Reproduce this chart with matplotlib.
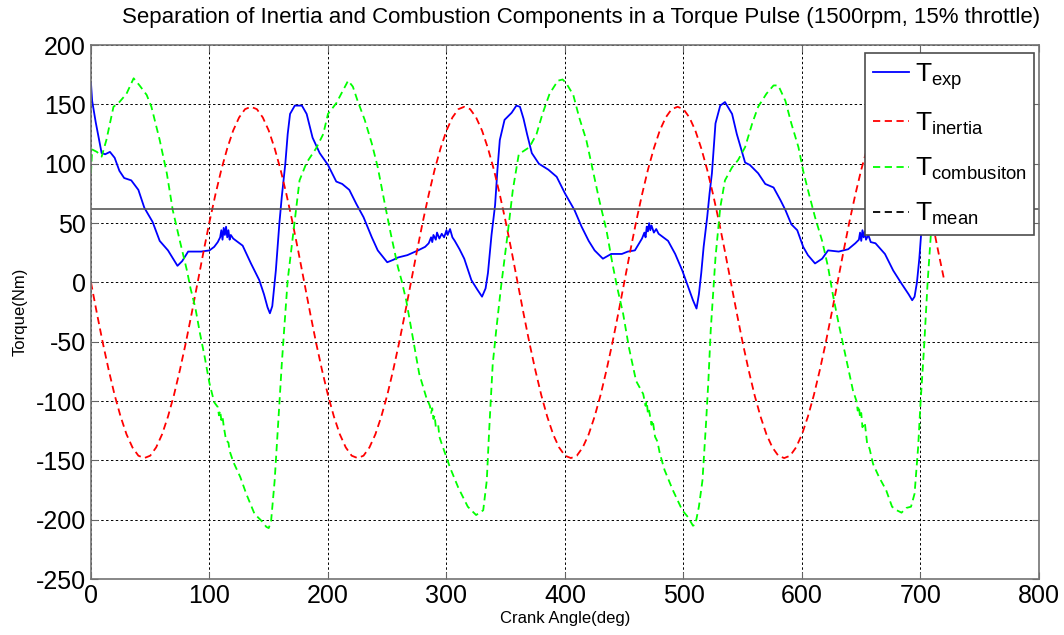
import matplotlib
matplotlib.use('Agg')
import matplotlib.pyplot as plt
from matplotlib.lines import Line2D

plt.rcParams['font.family'] = ['Liberation Sans', 'DejaVu Sans']
plt.rcParams['mathtext.fontset'] = 'custom'
plt.rcParams['mathtext.rm'] = 'Liberation Sans'
plt.rcParams['mathtext.default'] = 'regular'
plt.rcParams['axes.unicode_minus'] = False

# measured torque (blue)
exp_deg = [0, 1, 4, 9, 12, 16, 20, 24, 28, 34, 40, 45, 52, 58, 65, 73, 77, 82, 88, 93,
           100, 104, 107, 109, 110, 111, 112, 113, 114, 115, 116, 117, 118, 120, 124, 128,
           135, 142, 146, 149, 151, 153, 156, 159, 161, 164, 166, 168, 172, 178, 182, 187,
           193, 200, 207, 212, 218, 224, 230, 237, 242, 250, 255, 259, 267, 276, 282, 285,
           287, 288, 289, 291, 292, 294, 296, 298, 300, 301, 303, 305, 307, 311, 315, 321,
           326, 330, 333, 335, 338, 341, 343, 345, 349, 355, 359, 362, 365, 368, 372, 378,
           386, 393, 400, 408, 414, 420, 425, 432, 439, 448, 453, 459, 465, 467, 468, 469,
           470, 471, 472, 473, 475, 477, 479, 487, 493, 499, 504, 508, 511, 513, 515, 517,
           520, 522, 524, 527, 531, 535, 541, 545, 552, 556, 563, 569, 576, 582, 586, 591,
           596, 601, 605, 611, 617, 622, 631, 639, 645, 648, 649, 650, 651, 652, 653, 654,
           656, 658, 662, 670, 677, 684, 690, 693, 695, 697, 699, 701, 703, 706, 709, 713, 720]
T_exp = [168, 153, 135, 109, 108, 110, 105, 94, 88, 86, 78, 63, 51, 35, 27, 14, 18, 26, 26, 26,
         27, 30, 34, 38, 44, 36, 46, 40, 47, 38, 44, 36, 40, 37, 34, 31,
         16, 2, -10, -21, -26, -20, 10, 50, 72, 100, 125, 142, 149, 149, 142, 122,
         109, 99, 85, 83, 78, 66, 55, 38, 27, 17, 19, 21, 23, 27, 30, 33,
         38, 34, 40, 36, 42, 37, 41, 38, 44, 40, 45, 38, 35, 28, 20, 2,
         -6, -12, -5, 8, 40, 65, 95, 120, 137, 143, 149, 148, 138, 125, 109, 100,
         95, 89, 75, 61, 47, 35, 27, 20, 24, 24, 26, 27, 37, 42, 38, 47,
         43, 50, 44, 48, 42, 45, 41, 35, 24, 10, -4, -15, -22, -10, 8, 30,
         55, 75, 92, 134, 149, 152, 142, 125, 101, 99, 92, 83, 80, 69, 61, 49,
         44, 30, 23, 16, 20, 27, 26, 28, 33, 36, 42, 35, 44, 38, 43, 36,
         40, 34, 33, 24, 10, -1, -10, -15, -12, 0, 20, 47, 90, 130, 155, 160, 155]

# inertia torque (red), every 5 deg
inertia_deg = list(range(0, 721, 5))
T_inertia = [0, -26, -51, -74, -95, -113, -128, -139, -146, -148, -146, -139, -128, -113, -95, -74, -51, -26,
             0, 26, 51, 74, 95, 113, 128, 139, 146, 148, 146, 139, 128, 113, 95, 74, 51, 26,
             0, -26, -51, -74, -95, -113, -128, -139, -146, -148, -146, -139, -128, -113, -95, -74, -51, -26,
             0, 26, 51, 74, 95, 113, 128, 139, 146, 148, 146, 139, 128, 113, 95, 74, 51, 26,
             0, -26, -51, -74, -95, -113, -128, -139, -146, -148, -146, -139, -128, -113, -95, -74, -51, -26,
             0, 26, 51, 74, 95, 113, 128, 139, 146, 148, 146, 139, 128, 113, 95, 74, 51, 26,
             0, -26, -51, -74, -95, -113, -128, -139, -146, -148, -146, -139, -128, -113, -95, -74, -51, -26,
             0, 26, 51, 74, 95, 113, 128, 139, 146, 148, 146, 139, 128, 113, 95, 74, 51, 26,
             2]

# combustion torque (green)
comb_deg = [0, 1, 5, 9, 13, 19, 24, 30, 36, 41, 47, 51, 58, 64, 69, 75, 81, 84, 88, 92,
            96, 100, 104, 107, 108, 109, 110, 111, 112, 114, 116, 117, 120, 126, 131, 138,
            144, 148, 150, 152, 155, 158, 159, 161, 163, 166, 171, 176, 182, 190, 196, 200,
            207, 217, 221, 225, 231, 237, 242, 248, 253, 259, 262, 266, 272, 277, 283, 286,
            287, 288, 289, 290, 291, 293, 294, 296, 303, 310, 318, 325, 331, 334, 336, 339,
            342, 346, 349, 352, 356, 361, 370, 376, 381, 387, 394, 398, 401, 407, 412, 418,
            423, 429, 435, 440, 444, 449, 454, 460, 466, 468, 469, 470, 471, 473, 474, 476,
            478, 480, 484, 491, 499, 504, 508, 510, 513, 516, 519, 521, 523, 525, 527, 531,
            535, 541, 546, 552, 558, 563, 570, 576, 580, 586, 591, 597, 601, 605, 611, 617,
            622, 626, 631, 637, 643, 646, 647, 648, 649, 650, 651, 653, 655, 657, 660, 665,
            671, 676, 680, 684, 688, 692, 695, 698, 700, 703, 706, 709, 712, 716, 720]
T_comb = [92, 112, 110, 106, 120, 148, 152, 159, 172, 166, 158, 148, 120, 92, 61, 35, 10, -5, -21, -43,
          -63, -85, -101, -105, -112, -108, -116, -113, -121, -133, -135, -142, -151, -164, -178, -195,
          -201, -206, -207, -201, -167, -119, -102, -69, -40, 2, 44, 86, 101, 113, 125, 142,
          151, 170, 165, 153, 137, 117, 97, 66, 41, 13, 2, -15, -49, -77, -97, -104,
          -110, -106, -115, -112, -122, -120, -130, -136, -156, -173, -189, -196, -192, -167, -125, -69,
          -40, -4, 20, 44, 78, 108, 114, 125, 142, 159, 170, 171, 168, 158, 139, 120,
          97, 69, 44, 16, -4, -26, -55, -83, -94, -104, -100, -111, -108, -120, -116, -130,
          -134, -144, -158, -175, -192, -198, -205, -204, -189, -167, -119, -83, -40, -10, 21, 63,
          86, 97, 103, 114, 134, 148, 159, 166, 166, 153, 134, 114, 94, 78, 55, 35,
          13, -10, -35, -63, -91, -100, -108, -104, -114, -110, -122, -118, -136, -140, -153, -164,
          -175, -189, -192, -194, -190, -189, -178, -139, -102, -55, 0, 44, 75, 92, 95]

T_mean = 62

fig = plt.figure(figsize=(10.64, 6.35), dpi=100)
ax = fig.add_axes([0.0855, 0.088, 0.891, 0.841])

ax.plot(exp_deg, T_exp, color='#0000ff', lw=1.3)
ax.plot(inertia_deg, T_inertia, color='#ff0000', lw=1.3, ls=(0, (4, 2.5)))
ax.plot(comb_deg, T_comb, color='#00ff00', lw=1.3, ls=(0, (4, 2.5)))
ax.axhline(T_mean, color='0.35', lw=1.2)

ax.set_xlim(0, 800)
ax.set_ylim(-250, 200)
ax.set_xticks(range(0, 801, 100))
ax.set_yticks(range(-250, 201, 50))
ax.grid(True, color='k', ls=(0, (2.5, 2.5)), lw=0.7)
ax.tick_params(direction='in', top=True, right=True, labelsize=18, length=5, color='0.4')
for s in ax.spines.values():
    s.set_color('0.45')
    s.set_linewidth(1.2)

ax.set_xlabel('Crank Angle(deg)', fontsize=12, labelpad=2)
ax.set_ylabel('Torque(Nm)', fontsize=12, labelpad=6)
fig.text(0.546, 0.972, 'Separation of Inertia and Combustion Components in a Torque Pulse (1500rpm, 15% throttle)',
         ha='center', va='center', fontsize=16)

handles = [Line2D([], [], color='#0000ff', lw=1.3),
           Line2D([], [], color='#ff0000', lw=1.3, ls=(0, (4, 2.5))),
           Line2D([], [], color='#00ff00', lw=1.3, ls=(0, (4, 2.5))),
           Line2D([], [], color='k', lw=1.3, ls=(0, (4, 2.5)))]
labels = ['$T_{exp}$', '$T_{inertia}$', '$T_{combusiton}$', '$T_{mean}$']
leg = ax.legend(handles, labels, loc='upper right', bbox_to_anchor=(0.995, 0.985), fontsize=19,
                frameon=True, fancybox=False, framealpha=1, edgecolor='0.3', borderaxespad=0,
                handlelength=1.4, handletextpad=0.2, labelspacing=0.72, borderpad=0.3)
leg.get_frame().set_linewidth(1.2)

fig.savefig('out.png', dpi=100)
